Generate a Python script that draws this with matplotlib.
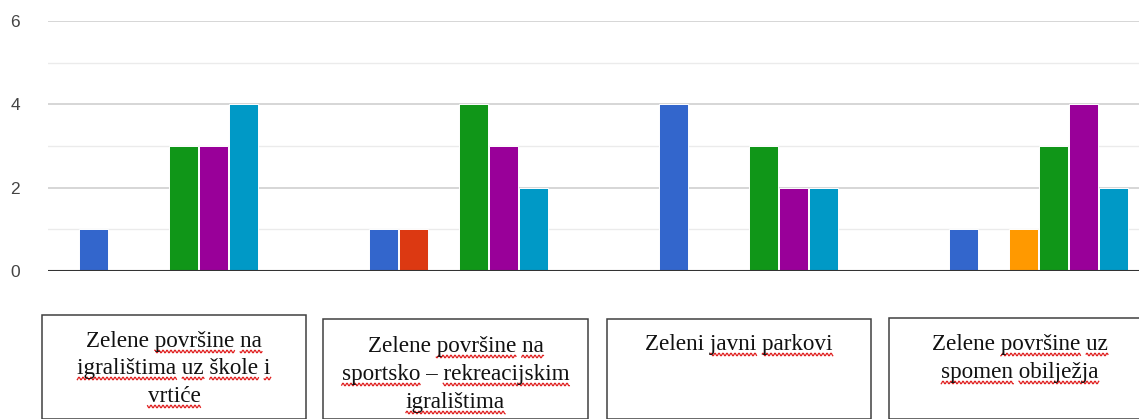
import numpy as np
import matplotlib
matplotlib.use("Agg")
import matplotlib.pyplot as plt
from matplotlib.patches import Rectangle
from matplotlib.lines import Line2D
from matplotlib.font_manager import FontProperties

# Survey answers per green-area type (six answer options)
groups = ["Zelene površine na igralištima uz škole i vrtiće",
          "Zelene površine na sportsko – rekreacijskim igralištima",
          "Zeleni javni parkovi",
          "Zelene površine uz spomen obilježja"]
blue = [1, 1, 4, 1]
red = [0, 1, 0, 0]
orange = [0, 0, 0, 1]
green = [3, 4, 3, 3]
purple = [3, 3, 2, 4]
teal = [4, 2, 2, 2]
yticks = [0, 2, 4, 6]

# caption lines under each group, with the words flagged by the spell checker
caption_lines = [
    ["Zelene površine na", "igralištima uz škole i", "vrtiće"],
    ["Zelene površine na", "sportsko – rekreacijskim", "igralištima"],
    ["Zeleni javni parkovi"],
    ["Zelene površine uz", "spomen obilježja"],
]
flagged = [
    [[1, 2], [0, 1, 2, 3], [0]],
    [[1, 2], [0, 2], [0]],
    [[1, 2]],
    [[1, 2], [0, 1]],
]

series = [blue, red, orange, green, purple, teal]
colors = ["#3366cc", "#dc3912", "#ff9900", "#109618", "#990099", "#0099c6"]

W, H = 1139, 419
fig = plt.figure(figsize=(W / 100, H / 100), dpi=100)
ax = fig.add_axes([48 / W, (H - 271) / H, 1 - 48 / W, 250 / H])

slot = 0.104
x = np.arange(len(groups))
for i, (vals, c) in enumerate(zip(series, colors)):
    ax.bar(x + (i - 2.5) * slot, vals, width=0.1, color=c,
           edgecolor="white", linewidth=0.7, zorder=2)

ax.set_xlim(-0.4155, 3.3466)
ax.set_ylim(0, 6)
ax.set_yticks(yticks)
ax.set_yticks([1, 3, 5], minor=True)
ax.set_xticks([])
ax.grid(axis="y", which="major", color="#cccccc", linewidth=1.1, zorder=0)
ax.grid(axis="y", which="minor", color="#ebebeb", linewidth=1.0, zorder=0)
ax.axhline(0, color="#333333", linewidth=1.5, zorder=3)
for s in ax.spines.values():
    s.set_visible(False)
ax.tick_params(axis="y", which="both", length=0, pad=20,
               labelsize=12.5, labelcolor="#444444")
for lab in ax.get_yticklabels():
    lab.set_fontfamily("Liberation Sans")

# caption boxes (left, top, right in pixels)
boxes = [(42, 315, 306), (323, 319, 588), (607, 319, 871), (889, 318, 1151)]
baselines = [[347, 374, 402], [352, 380, 408], [350], [350, 378]]
for (bx0, by0, bx1) in boxes:
    fig.patches.append(Rectangle((bx0 / W, 0), (bx1 - bx0) / W, (H - by0) / H,
                                 transform=fig.transFigure, fill=False,
                                 edgecolor="#404040", linewidth=1.1))

prop = FontProperties(family="Liberation Serif", size=16.7)
fig.canvas.draw()
renderer = fig.canvas.get_renderer()


def text_w(s):
    w, _, _ = renderer.get_text_width_height_descent(s, prop, ismath=False)
    return w


for (bx0, by0, bx1), lines, marks, bases in zip(boxes, caption_lines, flagged, baselines):
    cx = (bx0 + bx1) / 2
    for line, m, yb in zip(lines, marks, bases):
        fig.text(cx / W, (H - yb) / H, line, fontproperties=prop,
                 ha="center", va="baseline", color="#111111")
        left = cx - text_w(line) / 2
        words = line.split(" ")
        for wi in m:
            prefix = " ".join(words[:wi]) + (" " if wi > 0 else "")
            x0 = left + text_w(prefix)
            x1 = x0 + text_w(words[wi])
            xs = np.linspace(x0, x1, max(int((x1 - x0) * 2), 2))
            ys = yb + 4.5 + 1.3 * np.sin(xs * 2 * np.pi / 4.0)
            fig.lines.append(Line2D(xs / W, (H - ys) / H, transform=fig.transFigure,
                                    color="#e02020", linewidth=0.9))

fig.savefig("out.png", dpi=100)
